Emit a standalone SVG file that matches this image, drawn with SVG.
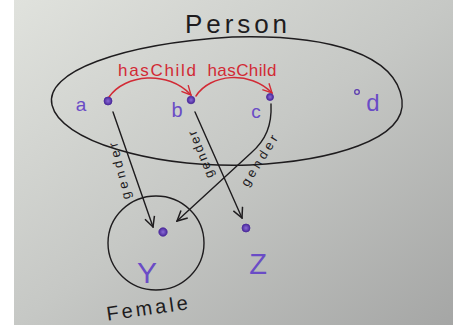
<svg xmlns="http://www.w3.org/2000/svg" width="453" height="327" viewBox="0 0 453 327">
  <defs>
    <linearGradient id="paper" x1="0" y1="0" x2="1" y2="1">
      <stop offset="0" stop-color="#e0e2dd"/>
      <stop offset="0.5" stop-color="#c6c8c5"/>
      <stop offset="1" stop-color="#a5a6a5"/>
    </linearGradient>
    <marker id="vb" viewBox="0 0 12 12" refX="11" refY="6" markerWidth="12" markerHeight="12" markerUnits="userSpaceOnUse" orient="auto">
      <path d="M1,1 L11,6 L1,11" fill="none" stroke="#1e1c1e" stroke-width="1.5"/>
    </marker>
    <marker id="vr" viewBox="0 0 12 12" refX="11" refY="6" markerWidth="11" markerHeight="11" markerUnits="userSpaceOnUse" orient="auto">
      <path d="M1,1 L11,6 L1,11" fill="none" stroke="#d22a35" stroke-width="1.5"/>
    </marker>
    <radialGradient id="dotg">
      <stop offset="0" stop-color="#8a6ad6"/>
      <stop offset="1" stop-color="#4b2a9c"/>
    </radialGradient>
  </defs>
  <style>
    .ink { fill: none; stroke: #1e1c1e; stroke-width: 1.4; stroke-linecap: round; }
    .red { fill: none; stroke: #d22a35; stroke-width: 1.5; stroke-linecap: round; }
    .lbl { font-family: "Liberation Sans", "DejaVu Sans", sans-serif; fill: #6a4cc6; }
    .blk { font-family: "Liberation Sans", "DejaVu Sans", sans-serif; fill: #1e1c1e; }
    .rtx { font-family: "Liberation Sans", "DejaVu Sans", sans-serif; fill: #d22a35; font-size: 17px; }
    .gen { font-family: "Liberation Sans", "DejaVu Sans", sans-serif; fill: #1e1c1e; font-size: 13px; }
    .dot { fill: url(#dotg); stroke: #4b2a9c; stroke-width: 0.8; }
  </style>
  <rect x="0" y="0" width="453" height="327" fill="#ffffff"/>
  <rect x="14" y="0" width="439" height="325" fill="url(#paper)"/>

  <g id="person">
    <path class="ink" d="M52,105 C44,72 120,44 232,37 C330,34 396,55 402,100 C407,140 330,161 250,165 C150,168 60,140 52,105 Z"/>
    <text class="blk" x="236" y="33" font-size="26" text-anchor="middle" textLength="102" lengthAdjust="spacing">Person</text>
  </g>

  <g id="female">
    <ellipse class="ink" cx="156" cy="243" rx="48" ry="47"/>
    <text class="blk" x="148" y="315" font-size="20" text-anchor="middle" textLength="82" lengthAdjust="spacing" transform="rotate(-8 148 315)">Female</text>
  </g>

  <g id="connectors">
    <path class="red" d="M109,97 C125,74 168,70 191,95" marker-end="url(#vr)"/>
    <path class="red" d="M196,96 C210,74 250,70 272,93" marker-end="url(#vr)"/>
    <path class="ink" d="M113,112 L153,227" marker-end="url(#vb)"/>
    <path class="ink" d="M195,112 L242,218" marker-end="url(#vb)"/>
    <path class="ink" d="M271,104 C272,125 266,140 251,153 L177,221" marker-end="url(#vb)"/>
    <text class="rtx" x="157" y="76" text-anchor="middle" textLength="78" lengthAdjust="spacing">hasChild</text>
    <text class="rtx" x="242" y="76" text-anchor="middle" textLength="69" lengthAdjust="spacing">hasChild</text>
    <text class="gen" x="124" y="170" text-anchor="middle" textLength="58" lengthAdjust="spacing" transform="rotate(-104 124 170)">gender</text>
    <text class="gen" x="205" y="153" text-anchor="middle" textLength="50" lengthAdjust="spacing" transform="rotate(-112 205 153)">gender</text>
    <text class="gen" x="263" y="163" text-anchor="middle" textLength="58" lengthAdjust="spacing" transform="rotate(-58 263 163)">gender</text>
  </g>

  <g id="a">
    <circle class="dot" cx="108" cy="101" r="4"/>
    <text class="lbl" x="81" y="111" font-size="19" text-anchor="middle">a</text>
  </g>
  <g id="b">
    <circle class="dot" cx="191" cy="100" r="3.8"/>
    <text class="lbl" x="177" y="117" font-size="20" text-anchor="middle">b</text>
  </g>
  <g id="c">
    <circle class="dot" cx="270" cy="97" r="3.5"/>
    <text class="lbl" x="256" y="118" font-size="19" text-anchor="middle">c</text>
  </g>
  <g id="d">
    <circle cx="357" cy="92" r="2.3" fill="none" stroke="#5b3aaf" stroke-width="1.3"/>
    <text class="lbl" x="373" y="111" font-size="24" text-anchor="middle">d</text>
  </g>
  <g id="y">
    <circle class="dot" cx="163" cy="232" r="4.2"/>
    <text class="lbl" x="147" y="283" font-size="30" text-anchor="middle">Y</text>
  </g>
  <g id="z">
    <circle class="dot" cx="246" cy="228" r="4"/>
    <text class="lbl" x="258" y="274" font-size="29" text-anchor="middle">Z</text>
  </g>
</svg>
